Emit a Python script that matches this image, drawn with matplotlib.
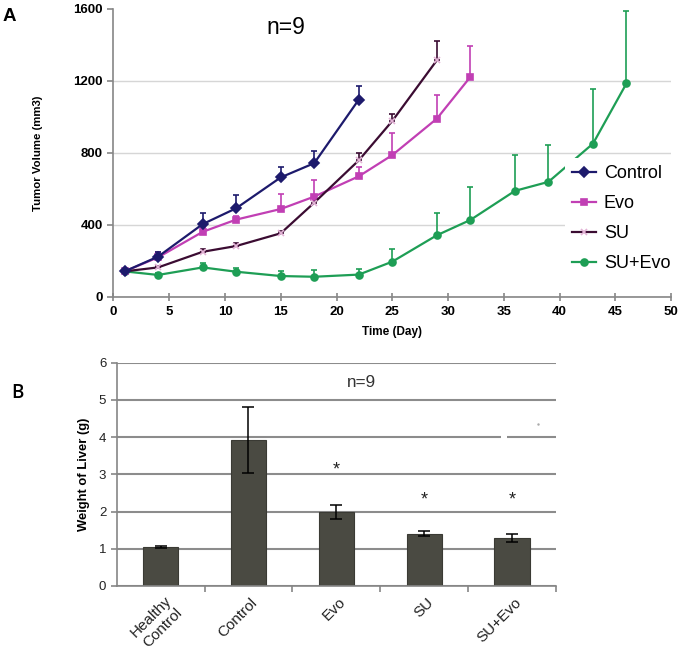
import numpy as np
import matplotlib.pyplot as plt
import matplotlib.transforms as mtransforms
from matplotlib.lines import Line2D

plt.rcParams['font.family'] = ['Liberation Sans', 'DejaVu Sans']

# ---- panel A: tumor volume over time ----
ctrl_days = [1, 4, 8, 11, 15, 18, 22]
ctrl_vol = [140, 222, 403, 491, 663, 742, 1096]
ctrl_err = [8, 27, 63, 74, 60, 70, 74]

evo_days = [1, 4, 8, 11, 15, 18, 22, 25, 29, 32]
evo_vol = [140, 218, 360, 428, 487, 556, 669, 787, 990, 1222]
evo_err = [8, 30, 20, 20, 83, 92, 50, 125, 134, 170]

su_days = [1, 4, 8, 11, 15, 18, 22, 25, 29]
su_vol = [140, 162, 249, 281, 352, 522, 758, 977, 1315]
su_err = [5, 10, 15, 15, 15, 15, 40, 40, 108]

suevo_days = [1, 4, 8, 11, 15, 18, 22, 25, 29, 32, 36, 39, 43, 46]
suevo_vol = [140, 120, 162, 138, 114, 110, 122, 194, 341, 426, 588, 638, 851, 1186]
suevo_err = [5, 10, 23, 20, 30, 35, 33, 72, 126, 182, 198, 203, 304, 403]

x_ticks_a = list(range(0, 51, 5))
y_ticks_a = [0, 400, 800, 1200, 1600]

# ---- panel B: liver weight ----
groups = ['Healthy\nControl', 'Control', 'Evo', 'SU', 'SU+Evo']
liver_wt = [1.05, 3.93, 1.99, 1.40, 1.30]
liver_err = [0.03, 0.89, 0.18, 0.07, 0.11]
star_groups = [2, 3, 4]
star_y = [3.12, 2.31, 2.31]

grey = '#868686'

fig = plt.figure(figsize=(6.82, 6.61), dpi=100)

# panel A
axA = fig.add_axes([0.1664, 0.5514, 0.8176, 0.4350])
series = [
    (suevo_days, suevo_vol, suevo_err, '#1e9e55', 'o', 'SU+Evo'),
    (evo_days, evo_vol, evo_err, '#c13fb4', 's', 'Evo'),
    (su_days, su_vol, su_err, '#3b0c32', 'x', 'SU'),
    (ctrl_days, ctrl_vol, ctrl_err, '#1d1a6c', 'D', 'Control'),
]
handles = {}
for d, v, e, c, m, name in series:
    lo = np.zeros(len(e))
    ms = 5 if m != 'x' else 4
    mec = c if m != 'x' else '#e3b3d6'
    axA.errorbar(d, v, yerr=[lo, e], color=c, lw=1.6, marker=m, ms=ms,
                 mec=mec, mew=1.2, elinewidth=1.2, capsize=2, capthick=1.2,
                 zorder=3)
    handles[name] = Line2D([], [], color=c, lw=1.6, marker=m, ms=ms,
                           mec=mec, mew=1.2)

axA.set_xlim(0, 50)
axA.set_ylim(0, 1600)
axA.set_xticks(x_ticks_a)
axA.set_yticks(y_ticks_a)
axA.yaxis.grid(True, color='#d6d6d6', lw=1)
axA.get_ygridlines()[-1].set_visible(False)
axA.set_axisbelow(True)
for s in ['top', 'right']:
    axA.spines[s].set_visible(False)
for s in ['left', 'bottom']:
    axA.spines[s].set_color(grey)
    axA.spines[s].set_linewidth(1.2)
axA.tick_params(colors=grey, labelcolor='black', length=4, width=1.2,
                labelsize=9.5)
axA.tick_params(axis='x', direction='inout', length=6)
for lbl in axA.get_xticklabels() + axA.get_yticklabels():
    lbl.set_fontweight('bold')
axA.set_xlabel('Time (Day)', fontsize=8.5, fontweight='bold', labelpad=6)
axA.set_ylabel('Tumor Volume (mm3)', fontsize=8.2, fontweight='bold')
axA.yaxis.set_label_coords(-0.127, 0.5)
axA.text(0.31, 0.935, 'n=9', transform=axA.transAxes, fontsize=16.5,
         ha='center', va='center')

order = ['Control', 'Evo', 'SU', 'SU+Evo']
leg = fig.legend([handles[k] for k in order], order, loc='upper left',
                 bbox_to_anchor=(0.8284, 0.761), fontsize=13,
                 frameon=True, framealpha=1, facecolor='white',
                 edgecolor='none', borderaxespad=0, borderpad=0.4,
                 handlelength=1.3, handletextpad=0.45, labelspacing=0.72)

fig.text(0.004, 0.975, 'A', fontsize=13.5, fontweight='bold', va='center')

# panel B
axB = fig.add_axes([0.1711, 0.1135, 0.6441, 0.3378])
xpos = np.arange(len(groups))
axB.bar(xpos, liver_wt, width=0.4, color='#4a4a42', edgecolor='#3a3a34',
        lw=0.8, zorder=2)
axB.errorbar(xpos, liver_wt, yerr=liver_err, fmt='none', ecolor='black',
             elinewidth=1.1, capsize=4, capthick=1.1, zorder=3)
axB.set_xlim(-0.5, len(groups) - 0.5)
axB.set_ylim(0, 6)
axB.set_yticks(range(7))
axB.yaxis.grid(True, color='#8c8c8c', lw=1.5)
axB.set_axisbelow(True)
# small break in the 4 g line, as in the source figure
axB.plot([3.87, 3.94], [4, 4], color='white', lw=3, zorder=1.5,
         solid_capstyle='butt')
axB.plot([4.30], [4.35], marker='.', ms=1.5, color='#aaaaaa')
for s in ['top', 'right']:
    axB.spines[s].set_visible(False)
for s in ['left', 'bottom']:
    axB.spines[s].set_color(grey)
    axB.spines[s].set_linewidth(1.2)
axB.set_xticks(xpos)
axB.set_xticklabels(groups, rotation=45, ha='right', va='center',
                    rotation_mode='anchor', multialignment='center',
                    fontsize=11, color='#222222')
axB.set_xticks(np.arange(0.5, len(groups), 1), minor=True)
axB.tick_params(axis='x', which='major', length=0, pad=13)
axB.tick_params(axis='x', which='minor', length=4, width=1.2, colors=grey,
                direction='out')
axB.tick_params(axis='y', length=4, width=1.2, colors=grey,
                labelcolor='#222222', labelsize=9.5)
# nudge the slanted labels to sit like the original
for i, lbl in enumerate(axB.get_xticklabels()):
    dx, dy = (15, 0) if i == 0 else (7, 4)
    off = mtransforms.ScaledTranslation(dx / 100, dy / 100, fig.dpi_scale_trans)
    lbl.set_transform(lbl.get_transform() + off)
axB.set_ylabel('Weight of Liver (g)', fontsize=9.4, fontweight='bold',
               labelpad=6)
for g, y in zip(star_groups, star_y):
    axB.text(g, y, '*', ha='center', va='center', fontsize=13,
             color='#222222')
axB.text(2.29, 5.47, 'n=9', ha='center', va='center', fontsize=12.3,
         color='#333333')

fig.text(0.017, 0.405, 'B', fontsize=13.5, fontweight='semibold',
         family='Open Sans', va='center')

fig.savefig('out.png', dpi=100)
